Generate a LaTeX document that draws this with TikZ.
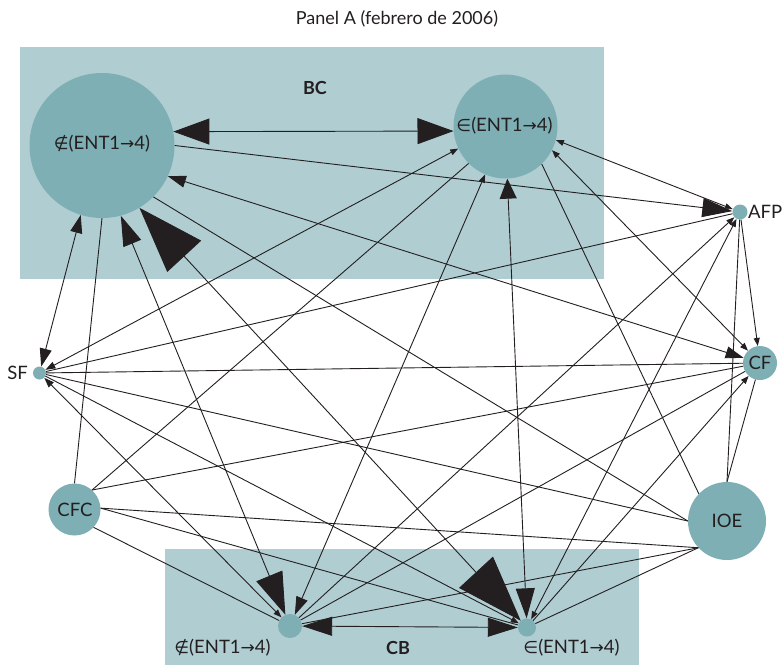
\documentclass[tikz,border=0pt]{standalone}
\usepackage{fontspec}
\setmainfont{Lato}
\newfontfamily\symf{DejaVu Sans}[Scale=0.92]
\usetikzlibrary{arrows.meta}
\definecolor{panel}{HTML}{B0CDD2}
\definecolor{nodefill}{HTML}{7EAFB4}
\definecolor{ink}{HTML}{231F20}
\tikzset{
  tS/.tip={Triangle[length=8pt,width=6pt]},
  tSF/.tip={Triangle[length=10pt,width=7pt]},
  tM/.tip={Triangle[length=18pt,width=12pt]},
  tMw/.tip={Triangle[length=20pt,width=17pt]},
  tL/.tip={Triangle[length=30pt,width=19pt]},
  tX/.tip={Triangle[length=36pt,width=26pt]},
  tB/.tip={Triangle[length=42pt,width=28pt]},
  tH/.tip={Triangle[length=66pt,width=46pt]},
}
\newcommand{\notinent}{{\symf ∉}(ENT1{\symf →}4)}
\newcommand{\inent}{{\symf ∈}(ENT1{\symf →}4)}
\begin{document}
\begin{tikzpicture}[x=1pt,y=-1pt,
  vtx/.style={circle, fill=nodefill, draw=none, inner sep=0pt},
  lab/.style={inner sep=0pt, text=ink, font=\fontsize{18.5}{21}\selectfont},
  inlab/.style={inner sep=0pt, text=ink, font=\fontsize{18.5}{21}\selectfont},
  grp/.style={inner sep=0pt, text=ink, font=\bfseries\fontsize{18}{21}\selectfont},
  ttl/.style={inner sep=0pt, text=ink, font=\fontsize{18}{21}\selectfont},
  ln/.style={draw=ink, line width=0.9pt},
  panelbox/.style={fill=panel, draw=none}]
\useasboundingbox (0,0) rectangle (782,665);
\fill[white] (0,0) rectangle (782,665);
% group panels
\path[panelbox] (20,47) rectangle (604,279);
\path[panelbox] (165,549) rectangle (639,665);
\node[ttl] (title) at (397,19) {Panel A (febrero de 2006)};
\node[grp] (bc) at (315,88) {BC};
\node[grp] (cb) at (398,648) {CB};
% vertices
\node[vtx, minimum size=145pt] (A) at (102,145.5) {};
\node[vtx, minimum size=104pt] (B) at (505.5,126.5) {};
\node[vtx, minimum size=15pt] (AFP) at (740,212) {};
\node[vtx, minimum size=34pt] (CF) at (760,363) {};
\node[vtx, minimum size=78pt] (IOE) at (727,521) {};
\node[vtx, minimum size=13pt] (SF) at (39.5,373) {};
\node[vtx, minimum size=52pt] (CFC) at (74.5,509.5) {};
\node[vtx, minimum size=24pt] (C) at (290,626) {};
\node[vtx, minimum size=18pt] (D) at (527,627.5) {};
% labels
\node[lab] (Alab) at (102,144) {\notinent};
\node[lab] (Blab) at (504.5,125.5) {\inent};
\node[lab, anchor=west] (AFPlab) at (748,212) {AFP};
\node[lab, anchor=east] (SFlab) at (28,373) {SF};
\node[inlab] (CFlab) at (760,363) {CF};
\node[inlab] (CFClab) at (75,510) {CFC};
\node[inlab] (IOElab) at (727,521) {IOE};
\node[lab] (Clab) at (222.5,648) {\notinent};
\node[lab] (Dlab) at (571.5,648) {\inent};
% ties
\draw[ln, tX-tX] (A.11) -- (B.185);
\draw[ln, -tL] (A.0) -- (AFP);
\draw[ln, tS-tS] (B.345) -- (AFP);
\draw[ln, tM-tM] (A.-107) -- (SF);
\draw[ln] (CFC.90) -- (A.-90);
\draw[ln, tB-tL] (C) -- (A.-75);
\draw[ln, tM-tM] (CF) -- (A.-25);
\draw[ln] (A.-45) -- (IOE.180);
\draw[ln, tH-tH] (A.-59) -- (D);
\draw[ln, tSF-tS] (SF) -- (B.205);
\draw[ln] (CFC.48) -- (B.225);
\draw[ln, tM-tS] (C) -- (B.247);
\draw[ln, tL-tMw] (D) -- (B.272);
\draw[ln] (IOE.136) -- (B.314);
\draw[ln, tS-tS] (CF) -- (B.333);
\draw[ln] (SF) -- (AFP);
\draw[ln, -tS] (C) -- (AFP);
\draw[ln, tS-tS] (D) -- (AFP);
\draw[ln] (IOE.90) -- (AFP);
\draw[ln, -tS] (AFP) -- (CF);
\draw[ln] (SF) -- (CF);
\draw[ln] (CFC.48) -- (CF);
\draw[ln] (C) -- (CF);
\draw[ln, -tS] (D) -- (CF);
\draw[ln] (IOE.90) -- (CF);
\draw[ln] (IOE.180) -- (SF);
\draw[ln, -tS] (SF) -- (D);
\draw[ln, tSF-tS] (SF) -- (C);
\draw[ln] (CFC.3) -- (IOE.223);
\draw[ln] (CFC.3) -- (D);
\draw[ln] (CFC.-43) -- (C);
\draw[ln] (IOE.223) -- (C);
\draw[ln] (IOE.223) -- (D);
\draw[ln, tL-tL] (C) -- (D);
\end{tikzpicture}
\end{document}
